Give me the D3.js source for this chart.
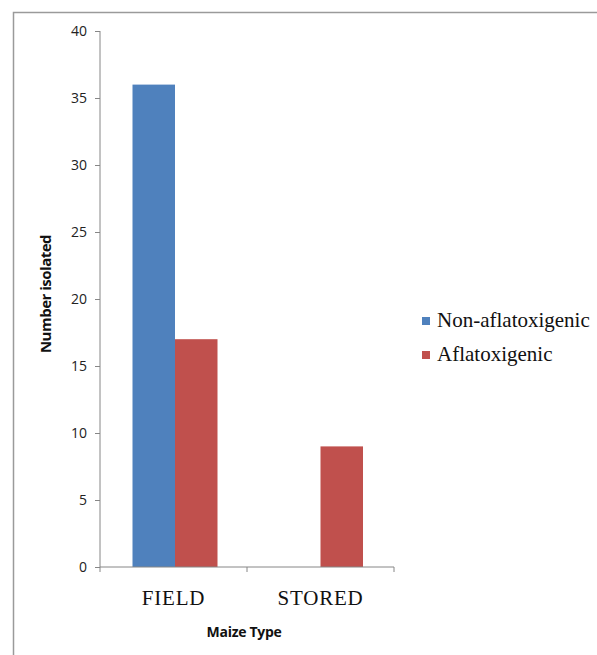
<!DOCTYPE html>
<html>
<head>
<meta charset="utf-8">
<script src="https://cdn.jsdelivr.net/npm/d3@7"></script>
<style>
  body { margin: 0; background: #fff; }
  .axis text { font-family: "Open Sans", "DejaVu Sans", sans-serif; font-size: 14px; fill: #222; }
  .axis path, .axis line { stroke: #868686; }
</style>
</head>
<body>
<div id="chart"></div>
<script>
const categories = ["FIELD", "STORED"]
const seriesNames = ["Non-aflatoxigenic", "Aflatoxigenic"]
const nonAflatoxigenic = [36, 0]
const aflatoxigenic = [17, 9]
const yTicks = [0, 5, 10, 15, 20, 25, 30, 35, 40]

const colors = ["#4F81BD", "#C0504D"]

const dimensions = {
  width: 597,
  height: 655,
  margin: { top: 31, right: 203, bottom: 88, left: 100 },
}
dimensions.boundedWidth = dimensions.width - dimensions.margin.left - dimensions.margin.right
dimensions.boundedHeight = dimensions.height - dimensions.margin.top - dimensions.margin.bottom

const wrapper = d3.select("#chart")
  .append("svg")
    .attr("width", dimensions.width)
    .attr("height", dimensions.height)

// frame (only top and left edges show)
wrapper.append("path")
  .attr("d", "M13.5,655 L13.5,12.5 L597,12.5")
  .attr("fill", "none")
  .attr("stroke", "#9a9a9a")
  .attr("stroke-width", 1.5)

const bounds = wrapper.append("g")
  .attr("transform", `translate(${dimensions.margin.left},${dimensions.margin.top})`)

const yScale = d3.scaleLinear()
  .domain([0, 40])
  .range([dimensions.boundedHeight, 0])

const xScale = d3.scaleBand()
  .domain(categories)
  .range([0, dimensions.boundedWidth])

const innerScale = d3.scaleBand()
  .domain(seriesNames)
  .range([0, 85])

const table = categories.map((c, i) => ({
  category: c,
  values: [nonAflatoxigenic[i], aflatoxigenic[i]],
}))

// bars
const groups = bounds.selectAll(".group")
  .data(table)
  .join("g")
    .attr("transform", (d, i) => `translate(${xScale(d.category) + xScale.bandwidth() / 2 - 42.5 + (i === 0 ? 1.5 : 0)},0)`)

groups.selectAll("rect")
  .data(d => d.values.map((v, j) => ({ name: seriesNames[j], value: v, j })))
  .join("rect")
    .attr("x", d => innerScale(d.name))
    .attr("width", innerScale.bandwidth())
    .attr("y", d => yScale(d.value))
    .attr("height", d => dimensions.boundedHeight - yScale(d.value))
    .attr("fill", d => colors[d.j])

// y axis
const yAxis = bounds.append("g")
  .attr("class", "axis")
  .call(d3.axisLeft(yScale).tickValues(yTicks).tickSize(5).tickSizeOuter(0).tickPadding(8))
yAxis.select(".domain").attr("d", `M0,0V${dimensions.boundedHeight}`)

// x axis
const xAxis = bounds.append("g")
  .attr("class", "axis")
  .attr("transform", `translate(0,${dimensions.boundedHeight})`)
  .call(d3.axisBottom(xScale).tickSize(0).tickPadding(0))
xAxis.select(".domain").attr("d", `M0,0H${dimensions.boundedWidth}`)
xAxis.selectAll("text")
  .attr("y", 38)
  .attr("dy", 0)
  .style("font-family", "'Liberation Serif', 'DejaVu Serif', serif")
  .style("font-size", "21px")
  .style("letter-spacing", "0.8px")
  .style("fill", "#111")

// category separator ticks
xAxis.selectAll(".sep")
  .data(d3.range(categories.length + 1))
  .join("line")
    .attr("class", "sep")
    .attr("x1", i => i * xScale.step())
    .attr("x2", i => i * xScale.step())
    .attr("y1", 0)
    .attr("y2", 5)
    .attr("stroke", "#868686")

// axis titles
bounds.append("text")
  .attr("x", xScale.step() * 0.98)
  .attr("y", dimensions.boundedHeight + 70)
  .attr("text-anchor", "middle")
  .style("font-family", "'Open Sans', 'DejaVu Sans', sans-serif")
  .style("font-size", "14px")
  .style("font-weight", "bold")
  .style("letter-spacing", "-0.3px")
  .style("fill", "#111")
  .text("Maize Type")

bounds.append("text")
  .attr("transform", `translate(-49,${dimensions.boundedHeight / 2 - 5}) rotate(-90)`)
  .attr("text-anchor", "middle")
  .style("font-family", "'Open Sans', 'DejaVu Sans', sans-serif")
  .style("font-size", "15px")
  .style("font-weight", "bold")
  .style("letter-spacing", "-0.5px")
  .style("fill", "#111")
  .text("Number isolated")

// legend
const legend = wrapper.append("g")
  .attr("transform", "translate(422,317)")

const legendItems = legend.selectAll("g")
  .data(seriesNames)
  .join("g")
    .attr("transform", (d, i) => `translate(0,${i * 34})`)

legendItems.append("rect")
  .attr("width", 8)
  .attr("height", 8)
  .attr("fill", (d, i) => colors[i])

legendItems.append("text")
  .attr("x", 15)
  .attr("y", 10)
  .style("font-family", "'Liberation Serif', 'DejaVu Serif', serif")
  .style("font-size", "21px")
  .style("fill", "#111")
  .text(d => d)
</script>
</body>
</html>
